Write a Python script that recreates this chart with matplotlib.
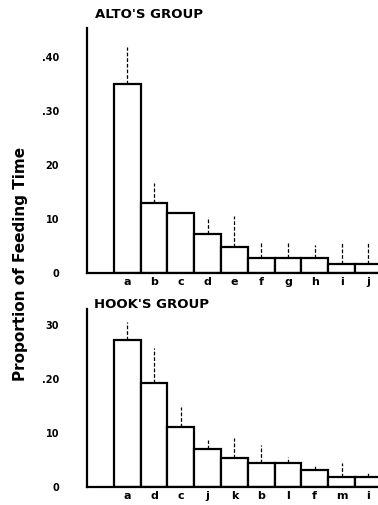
import numpy as np
import matplotlib
matplotlib.use("Agg")
import matplotlib.pyplot as plt

# Alto's group
alto_labels = ["a", "b", "c", "d", "e", "f", "g", "h", "i", "j"]
alto_values = [0.351, 0.130, 0.111, 0.072, 0.048, 0.028, 0.028, 0.028, 0.017, 0.017]
alto_upper = [0.419, 0.167, np.nan, 0.104, 0.105, 0.057, 0.057, 0.052, 0.057, 0.057]
alto_ticks = [0, 0.10, 0.20, 0.30, 0.40]
alto_ticklabels = ["0", "10", "20", ".30", ".40"]

# Hook's group
hook_labels = ["a", "d", "c", "j", "k", "b", "l", "f", "m", "i"]
hook_values = [0.272, 0.193, 0.112, 0.070, 0.054, 0.044, 0.044, 0.031, 0.019, 0.019]
hook_upper = [0.306, 0.257, 0.148, 0.087, 0.091, 0.078, 0.056, 0.041, 0.044, 0.026]
hook_ticks = [0, 0.10, 0.20, 0.30]
hook_ticklabels = ["0", "10", ".20", "30"]

fig = plt.figure(figsize=(3.78, 5.05), dpi=100)
ax1 = fig.add_axes([0.230, 0.4594, 0.770, 0.4852])
ax2 = fig.add_axes([0.230, 0.0356, 0.770, 0.3524])


def draw_panel(ax, labels, values, upper, ticks, ticklabels, ytop):
    x = np.arange(1, len(values) + 1)
    ax.bar(x, values, width=1.0, color="white", edgecolor="black", linewidth=1.6)
    up = np.array(upper, dtype=float)
    ok = ~np.isnan(up)
    ax.vlines(x[ok], np.array(values)[ok], up[ok], colors="black",
              linewidth=0.9, linestyles=(0, (3, 1.5)))
    ax.set_xlim(-0.5, 10.36)
    ax.set_ylim(0, ytop)
    ax.set_xticks(x)
    ax.set_xticklabels(labels, fontsize=8, fontweight="bold")
    ax.set_yticks(ticks)
    ax.set_yticklabels(ticklabels, fontsize=7, fontweight="bold")
    ax.tick_params(axis="both", length=0)
    ax.tick_params(axis="y", pad=20)
    ax.tick_params(axis="x", pad=3)
    for s in ["top", "right"]:
        ax.spines[s].set_visible(False)
    for s in ["left", "bottom"]:
        ax.spines[s].set_linewidth(1.6)


draw_panel(ax1, alto_labels, alto_values, alto_upper, alto_ticks, alto_ticklabels, 0.454)
draw_panel(ax2, hook_labels, hook_values, hook_upper, hook_ticks, hook_ticklabels, 0.33)

fig.text(0.251, 0.972, "ALTO'S GROUP", ha="left", va="center",
         fontsize=9.5, fontweight="bold")
fig.text(0.249, 0.398, "HOOK'S GROUP", ha="left", va="center",
         fontsize=9.5, fontweight="bold")

fig.text(0.053, 0.477, "Proportion of Feeding Time", rotation=90,
         ha="center", va="center", fontsize=11, fontweight="bold")

fig.savefig("out.png", dpi=100)
